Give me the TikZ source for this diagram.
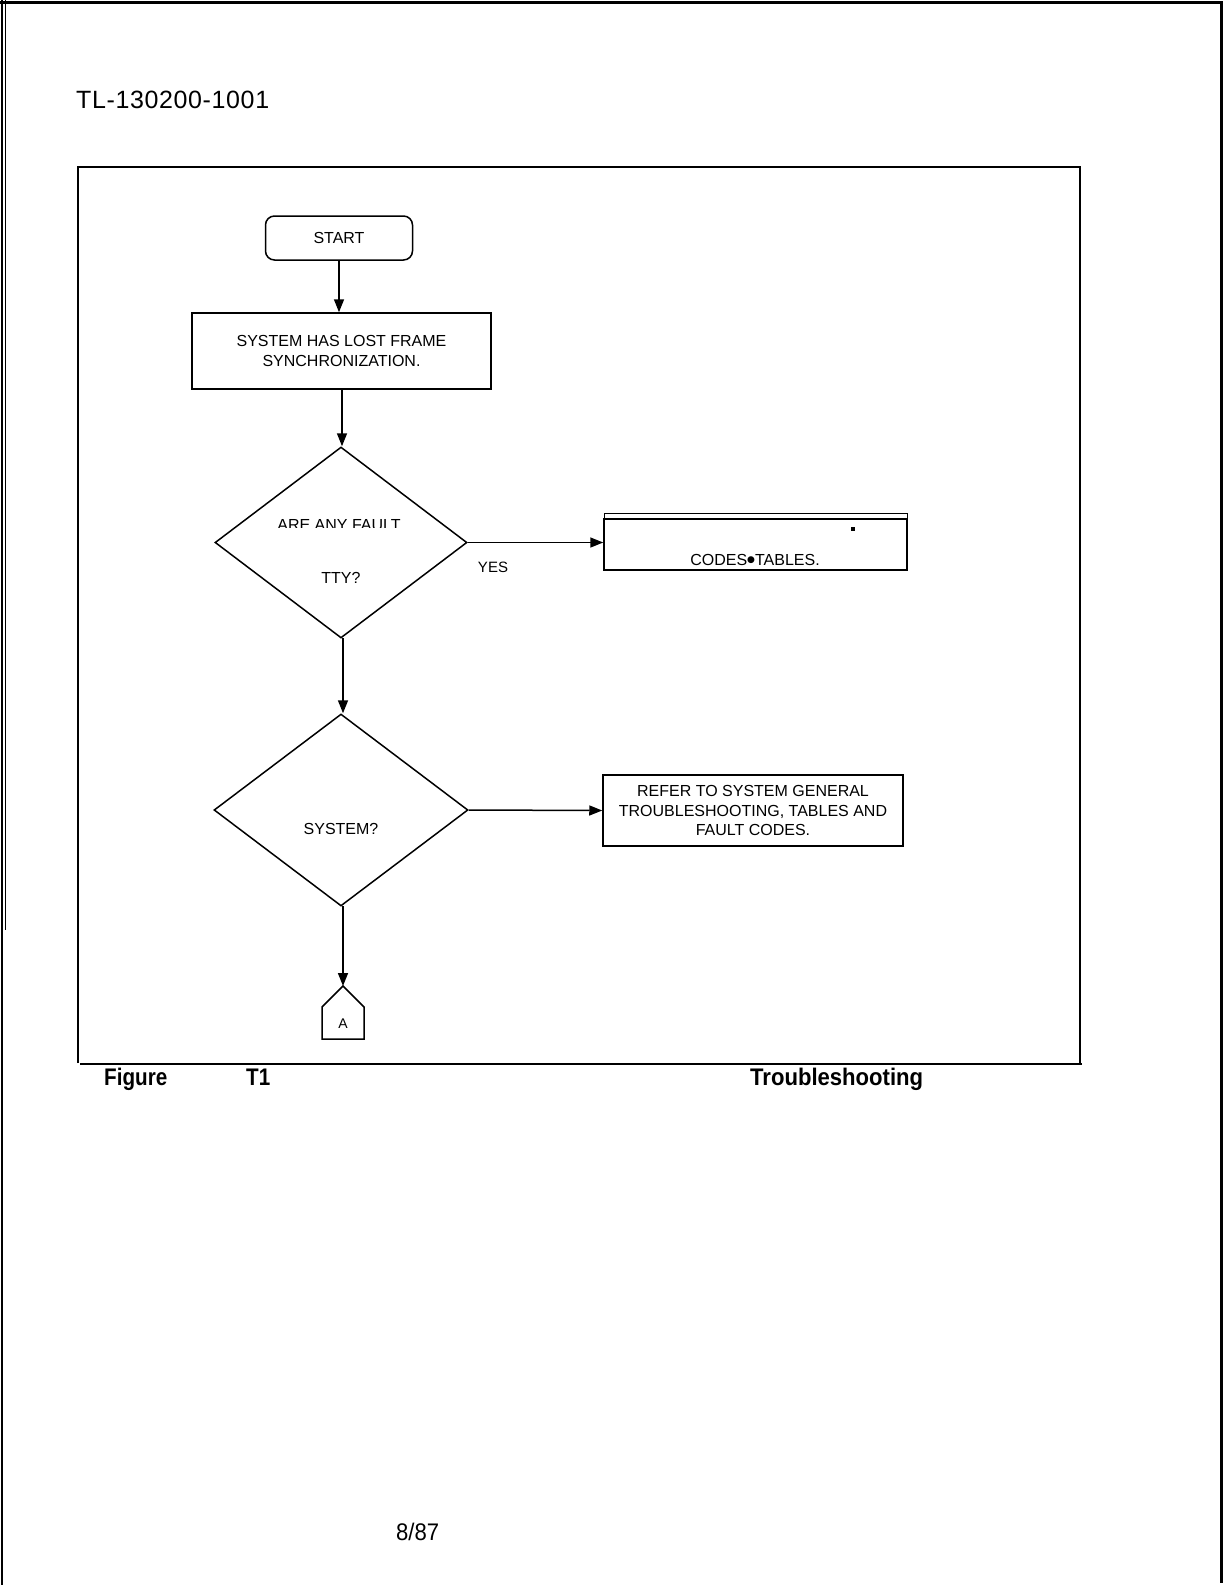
\documentclass[tikz,border=0pt]{standalone}
\usepackage{fontspec}
\setmainfont{Liberation Sans}
\newfontfamily\dejavu{DejaVu Sans}
\usetikzlibrary{arrows.meta,shapes.geometric}
\begin{document}
\begin{tikzpicture}[x=1pt,y=-1pt,
  boxfont/.style={font=\fontsize{16}{19.5}\selectfont},
  procbox/.style={draw,line width=1.5pt,inner sep=0pt,align=center,boxfont},
  decision/.style={draw,diamond,line width=1.5pt,inner sep=0pt},
  flow/.style={line width=1.5pt,-{Triangle[length=13pt,width=10pt]}},
  frameline/.style={line width=1.6pt},
  lbl/.style={inner sep=0pt,boxfont}]
\useasboundingbox (0,0) rectangle (1223,1585);
% outer page frame
\draw[line width=3pt] (0,2) -- (1221,2) -- (1221,1583);
\draw[line width=1.5pt] (2,0) -- (2,1585);
\draw[line width=1pt] (5,0) -- (5,930);
% header
\node[anchor=base west,inner sep=0pt,font=\addfontfeatures{LetterSpace=2.5}\fontsize{25}{30}\selectfont] (hdr) at (76,108) {TL-130200-1001};
% figure frame
\draw[frameline] (78,1063) -- (78,167) -- (1080,167) -- (1080,1063);
\draw[line width=2.6pt] (80,1064) -- (1082,1064);
% nodes
\node[procbox,rounded corners=9pt,minimum width=147pt,minimum height=44pt] (start) at (339,238) {START};
\node[procbox,minimum width=299pt,minimum height=76pt] (sys) at (341.5,351) {SYSTEM HAS LOST FRAME\\SYNCHRONIZATION.};
\node[decision,minimum width=252pt,minimum height=191pt] (d1) at (341,542.5) {};
\node[decision,minimum width=254pt,minimum height=192pt] (d2) at (341,810) {};
\node[procbox,minimum width=303pt,minimum height=51pt] (codes) at (755.5,544.5) {};
\node[lbl] (codestxt) at (755,560) {CODES{\dejavu\fontsize{9}{9}\selectfont\raisebox{3pt}{●}}TABLES.};
\draw[line width=0.8pt] (604,519) -- (604,513) -- (907,513) -- (907,519);
\fill (851,527) rectangle (855,531);
\node[procbox,minimum width=300pt,minimum height=71pt] (refer) at (753,810.5) {REFER TO SYSTEM GENERAL\\TROUBLESHOOTING, TABLES AND\\FAULT CODES.};
% connector A
\coordinate (Atop) at (343,986);
\draw[line width=1.5pt] (Atop) -- (364,1007) -- (364,1039) -- (322,1039) -- (322,1007) -- cycle;
\node[inner sep=0pt,font=\fontsize{14}{16}\selectfont] (Alabel) at (343,1024) {A};
% texts in diamonds
\begin{scope}
  \clip (240,505) rectangle (440,527);
  \node[lbl,anchor=base] (q1a) at (339,530) {ARE ANY FAULT};
\end{scope}
\node[lbl] (q1b) at (341,578) {TTY?};
\node[lbl] (q2) at (341,829) {SYSTEM?};
\node[inner sep=0pt,font=\fontsize{15}{18}\selectfont] (yes) at (493,567) {YES};
% connectors
\coordinate (s1) at (339,260);
\coordinate (s2) at (342,389);
\coordinate (s3) at (343,638);
\coordinate (s4) at (343,906);
\draw[flow] (s1) -- (s1 |- sys.north);
\draw[flow] (s2) -- (s2 |- d1.north);
\draw[flow] (d1.east) -- (d1.east -| codes.west);
\draw[flow] (s3) -- (s3 |- d2.north);
\draw[flow] (d2.east) -- (refer.west);
\draw[flow] (s4) -- (Atop);
% caption
\node[anchor=base west,inner sep=0pt,font=\bfseries\fontsize{24}{28}\selectfont] (fig) at (104,1085) {\scalebox{0.86}[1]{Figure}};
\node[anchor=base west,inner sep=0pt,font=\bfseries\fontsize{24}{28}\selectfont] (t1) at (246,1085) {\scalebox{0.86}[1]{T1}};
\node[anchor=base west,inner sep=0pt,font=\bfseries\fontsize{24}{28}\selectfont] (trb) at (750,1085) {\scalebox{0.92}[1]{Troubleshooting}};
% footer
\node[anchor=base west,inner sep=0pt,font=\fontsize{24}{28}\selectfont] (date) at (396,1540) {\scalebox{0.92}[1]{8/87}};
\end{tikzpicture}
\end{document}
